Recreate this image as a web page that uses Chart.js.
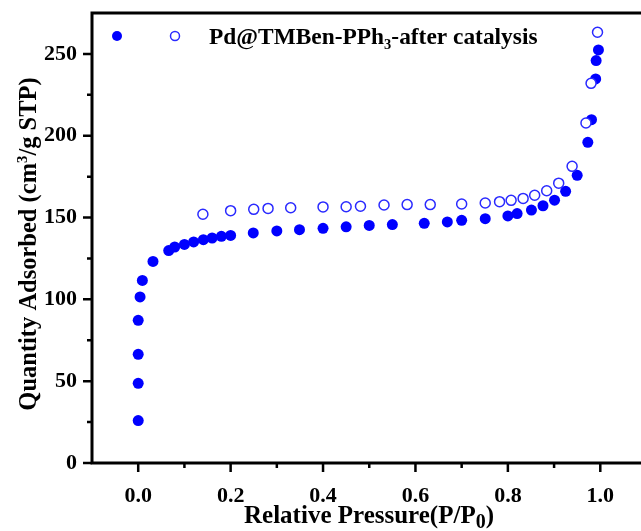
<!DOCTYPE html>
<html>
<head>
<meta charset="utf-8">
<script src="https://cdn.jsdelivr.net/npm/chart.js@4/dist/chart.umd.min.js"></script>
<style>
  html, body { margin: 0; padding: 0; background: #fff; overflow: hidden; }
  #wrap { width: 641px; height: 531px; overflow: hidden; }
</style>
</head>
<body>
<div id="wrap"><canvas id="iso" width="670" height="531"></canvas></div>
<script>
'use strict';

/* N2 isotherm: adsorption branch (filled) and desorption branch (open) */
const ADS_P = [0, 0, 0, 0, 0.004, 0.009, 0.032, 0.066, 0.079, 0.10, 0.12, 0.141, 0.16, 0.18, 0.20,
  0.249, 0.30, 0.349, 0.40, 0.45, 0.50, 0.55, 0.619, 0.669, 0.70, 0.751, 0.80, 0.82, 0.851, 0.876,
  0.901, 0.925, 0.95, 0.973, 0.981, 0.99, 0.991, 0.996];
const ADS_Q = [25.9, 48.7, 66.4, 87.2, 101.5, 111.6, 123.2, 129.8, 132.0, 133.6, 135.1, 136.5, 137.5, 138.5, 139.1,
  140.6, 141.8, 142.6, 143.4, 144.3, 145.2, 145.7, 146.5, 147.3, 148.3, 149.3, 151.0, 152.4, 154.6, 157.2,
  160.6, 166.0, 175.8, 196.0, 209.8, 234.7, 245.9, 252.4];
const DES_P = [0.14, 0.20, 0.25, 0.281, 0.33, 0.40, 0.45, 0.481, 0.532, 0.582, 0.632, 0.70, 0.751, 0.782,
  0.807, 0.833, 0.858, 0.884, 0.91, 0.939, 0.969, 0.98, 0.994];
const DES_Q = [152.0, 154.2, 155.0, 155.6, 156.0, 156.5, 156.6, 156.9, 157.7, 157.9, 157.9, 158.3, 158.9, 159.7,
  160.5, 161.7, 163.6, 166.4, 171.0, 181.3, 207.8, 232.0, 263.2];

const X_TICKS = [0, 0.2, 0.4, 0.6, 0.8, 1.0];
const X_MINOR = [0.1, 0.3, 0.5, 0.7, 0.9];
const Y_TICKS = [0, 50, 100, 150, 200, 250];
const Y_MINOR = [25, 75, 125, 175, 225];

// text runs: [text, mode, scale]
const SERIES_LABEL = [['Pd@TMBen-PPh', null], ['3', 'sub', 0.62], ['-after catalysis', null]];
const X_TITLE = [['Relative Pressure(P/P', null], ['0', 'sub', 0.8], [')', null]];
const Y_TITLE = [['Quantity Adsorbed (cm', null], ['3', 'sup', 0.6], ['/g STP)', null]];

const FONT_FAMILY = '"Liberation Serif", "Times New Roman", serif';
const BLUE = '#0000ff';
const OPEN_BLUE = '#2a2aff';

const toPoints = (xs, ys) => xs.map((x, i) => ({ x, y: ys[i] }));

function drawRuns(ctx, runs, x, y, size, align) {
  const fontFor = s => `bold ${s}px ${FONT_FAMILY}`;
  const widths = runs.map(([t, mode, sc]) => {
    ctx.font = fontFor(mode ? size * sc : size);
    return ctx.measureText(t).width;
  });
  const total = widths.reduce((a, b) => a + b, 0);
  let cx = align === 'center' ? x - total / 2 : x;
  ctx.textAlign = 'left';
  ctx.textBaseline = 'alphabetic';
  runs.forEach(([t, mode, sc], i) => {
    ctx.font = fontFor(mode ? size * sc : size);
    const dy = mode === 'sub' ? size * 0.2 : mode === 'sup' ? -size * 0.36 : 0;
    ctx.fillText(t, cx, y + dy);
    cx += widths[i];
  });
}

function marker(ctx, x, y, r, filled) {
  ctx.beginPath();
  ctx.arc(x, y, r, 0, Math.PI * 2);
  if (filled) {
    ctx.fillStyle = BLUE;
    ctx.fill();
  } else {
    ctx.fillStyle = '#fff';
    ctx.fill();
    ctx.lineWidth = 1.5;
    ctx.strokeStyle = OPEN_BLUE;
    ctx.stroke();
  }
}

/* frame, outward tick marks, axis titles and the legend line */
const decorations = {
  id: 'decorations',
  afterDraw(chart) {
    const { ctx, chartArea: a, scales: { x, y } } = chart;
    ctx.save();
    ctx.strokeStyle = '#000';
    ctx.lineWidth = 3;
    ctx.strokeRect(a.left, a.top, a.right - a.left, a.bottom - a.top);

    ctx.lineWidth = 2.5;
    ctx.beginPath();
    X_TICKS.forEach(v => { const px = x.getPixelForValue(v); ctx.moveTo(px, a.bottom); ctx.lineTo(px, a.bottom + 9); });
    X_MINOR.forEach(v => { const px = x.getPixelForValue(v); ctx.moveTo(px, a.bottom); ctx.lineTo(px, a.bottom + 5); });
    Y_TICKS.forEach(v => { const py = y.getPixelForValue(v); ctx.moveTo(a.left, py); ctx.lineTo(a.left - 9, py); });
    Y_MINOR.forEach(v => { const py = y.getPixelForValue(v); ctx.moveTo(a.left, py); ctx.lineTo(a.left - 5, py); });
    ctx.stroke();

    ctx.fillStyle = '#000';
    drawRuns(ctx, X_TITLE, 369, 523, 25, 'center');

    ctx.save();
    ctx.translate(36, 244);
    ctx.rotate(-Math.PI / 2);
    ctx.fillStyle = '#000';
    drawRuns(ctx, Y_TITLE, 0, 0, 24.5, 'center');
    ctx.restore();

    marker(ctx, 117, 36, 5, true);
    marker(ctx, 175, 36, 4.5, false);
    ctx.fillStyle = '#000';
    drawRuns(ctx, SERIES_LABEL, 209, 44, 23.4, 'left');
    ctx.restore();
  },
};

const tickFont = { family: FONT_FAMILY, size: 22, weight: 'bold' };

new Chart(document.getElementById('iso'), {
  type: 'scatter',
  data: {
    datasets: [
      {
        label: 'desorption',
        data: toPoints(DES_P, DES_Q),
        pointRadius: 5,
        pointBackgroundColor: '#fff',
        pointBorderColor: OPEN_BLUE,
        pointBorderWidth: 1.5,
        order: 0,
      },
      {
        label: 'adsorption',
        data: toPoints(ADS_P, ADS_Q),
        pointRadius: 5.5,
        pointBackgroundColor: BLUE,
        pointBorderColor: BLUE,
        pointBorderWidth: 0,
        order: 1,
      },
    ],
  },
  options: {
    responsive: false,
    animation: false,
    events: [],
    layout: { padding: { top: 13, right: 23.5, left: 0, bottom: 0 } },
    plugins: { legend: { display: false }, tooltip: { enabled: false } },
    scales: {
      x: {
        type: 'linear',
        min: -0.1,
        max: 1.1,
        afterBuildTicks: s => { s.ticks = X_TICKS.map(value => ({ value })); },
        afterFit: s => { s.height = 68; s.paddingLeft = 0; s.paddingRight = 0; },
        grid: { display: false, drawTicks: false },
        border: { display: false },
        ticks: { font: tickFont, color: '#000', padding: 20, maxRotation: 0, autoSkip: false,
          callback: v => v.toFixed(1) },
      },
      y: {
        type: 'linear',
        min: 0,
        max: 275,
        afterBuildTicks: s => { s.ticks = Y_TICKS.map(value => ({ value })); },
        afterFit: s => { s.width = 92; s.paddingTop = 0; s.paddingBottom = 0; },
        grid: { display: false, drawTicks: false },
        border: { display: false },
        ticks: { font: tickFont, color: '#000', padding: 15, autoSkip: false },
      },
    },
  },
  plugins: [decorations],
});
</script>
</body>
</html>
